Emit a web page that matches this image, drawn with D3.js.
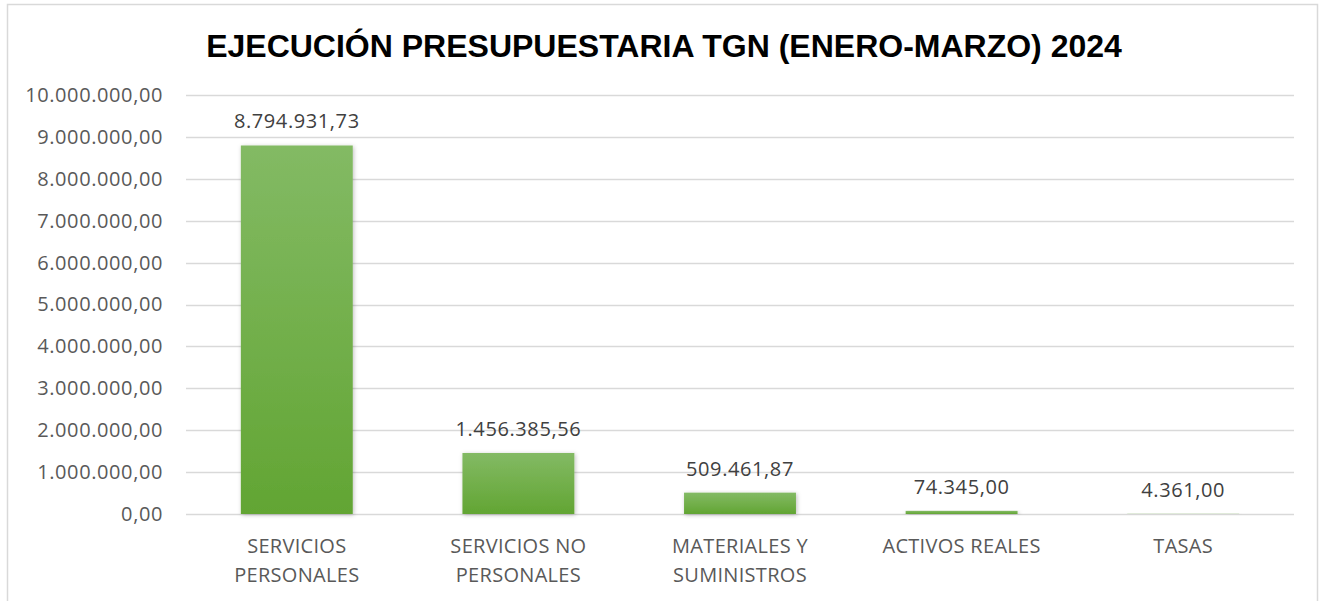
<!DOCTYPE html>
<html>
<head>
<meta charset="utf-8">
<script src="https://cdn.jsdelivr.net/npm/d3@7"></script>
<style>
  body { margin: 0; background: #fff; }
  svg { display: block; }
</style>
</head>
<body>
<div id="chart"></div>
<script>
// chart data
var categories = ['SERVICIOS PERSONALES', 'SERVICIOS NO PERSONALES', 'MATERIALES Y SUMINISTROS', 'ACTIVOS REALES', 'TASAS'];
var categoryLines = [['SERVICIOS', 'PERSONALES'], ['SERVICIOS NO', 'PERSONALES'], ['MATERIALES Y', 'SUMINISTROS'], ['ACTIVOS REALES'], ['TASAS']];
var values = [8794931.73, 1456385.56, 509461.87, 74345.00, 4361.00];
var yTicks = [0, 1000000, 2000000, 3000000, 4000000, 5000000, 6000000, 7000000, 8000000, 9000000, 10000000];
var title = 'EJECUCIÓN PRESUPUESTARIA TGN (ENERO-MARZO) 2024';

(function(d3) {
  'use strict';

  var width = 1326;
  var height = 601;
  var plot = { left: 186, right: 1294, top: 95, bottom: 514 };
  var labelFont = 'Open Sans, Liberation Sans, sans-serif';

  var fmt = d3.formatLocale({
    decimal: ',', thousands: '.', grouping: [3], currency: ['', '']
  }).format(',.2f');

  var svg = d3.select('#chart')
    .append('svg')
    .attr('width', width)
    .attr('height', height);

  var defs = svg.append('defs');
  var grad = defs.append('linearGradient')
    .attr('id', 'barGrad')
    .attr('x1', 0).attr('y1', 0).attr('x2', 0).attr('y2', 1);
  grad.append('stop').attr('offset', '0%').attr('stop-color', '#83ba64');
  grad.append('stop').attr('offset', '100%').attr('stop-color', '#62a533');

  var shadow = defs.append('filter').attr('id', 'shadow')
    .attr('x', '-10%').attr('y', '-10%').attr('width', '130%').attr('height', '130%');
  shadow.append('feDropShadow')
    .attr('dx', 1).attr('dy', 1).attr('stdDeviation', 2)
    .attr('flood-color', '#000').attr('flood-opacity', 0.25);

  // outer frame
  svg.append('rect')
    .attr('x', 7.5).attr('y', 4.5)
    .attr('width', 1310).attr('height', 610)
    .attr('fill', '#fff')
    .attr('stroke', '#d9d9d9')
    .attr('stroke-width', 1.5);

  svg.append('text')
    .attr('x', 664)
    .attr('y', 57)
    .attr('text-anchor', 'middle')
    .attr('font-family', 'Liberation Sans, Arial, sans-serif')
    .attr('font-weight', 'bold')
    .attr('font-size', 32)
    .attr('fill', '#000')
    .text(title);

  var x = d3.scaleBand()
    .domain(categories)
    .range([plot.left, plot.right])
    .paddingInner(0.495)
    .paddingOuter(0.2475);

  var y = d3.scaleLinear()
    .domain([0, 10000000])
    .range([plot.bottom, plot.top]);

  // gridlines
  svg.append('g')
    .selectAll('line')
    .data(yTicks)
    .enter()
    .append('line')
    .attr('x1', plot.left)
    .attr('x2', plot.right)
    .attr('y1', function(d) { return Math.round(y(d)) + 0.5; })
    .attr('y2', function(d) { return Math.round(y(d)) + 0.5; })
    .attr('stroke', '#d9d9d9')
    .attr('stroke-width', 1.5);

  // y axis labels
  var yAxis = d3.axisLeft(y)
    .tickValues(yTicks)
    .tickFormat(fmt)
    .tickSize(0)
    .tickPadding(23);
  var yg = svg.append('g')
    .attr('transform', 'translate(' + plot.left + ',0)')
    .call(yAxis);
  yg.select('.domain').remove();
  yg.selectAll('text')
    .attr('font-family', labelFont)
    .attr('font-size', 20)
    .attr('letter-spacing', 0.6)
    .attr('fill', '#595959');

  // bars
  svg.append('g')
    .selectAll('rect')
    .data(values)
    .enter()
    .append('rect')
    .attr('x', function(d, i) { return x(categories[i]); })
    .attr('y', function(d) { return y(d); })
    .attr('width', x.bandwidth())
    .attr('height', function(d) { return Math.max(0, y(0) - y(d)); })
    .attr('fill', 'url(#barGrad)')
    .attr('filter', 'url(#shadow)');

  // value labels
  svg.append('g')
    .selectAll('text')
    .data(values)
    .enter()
    .append('text')
    .attr('x', function(d, i) { return x(categories[i]) + x.bandwidth() / 2; })
    .attr('y', function(d) { return y(d) - 17; })
    .attr('text-anchor', 'middle')
    .attr('font-family', labelFont)
    .attr('font-size', 20)
    .attr('letter-spacing', 0.6)
    .attr('fill', '#404040')
    .text(function(d) { return fmt(d); });

  // category labels
  var cat = svg.append('g')
    .selectAll('text')
    .data(categoryLines)
    .enter()
    .append('text')
    .attr('text-anchor', 'middle')
    .attr('font-family', labelFont)
    .attr('font-size', 20)
    .attr('letter-spacing', 0.3)
    .attr('fill', '#595959');
  cat.each(function(lines, i) {
    var cx = x(categories[i]) + x.bandwidth() / 2;
    d3.select(this).selectAll('tspan')
      .data(lines)
      .enter()
      .append('tspan')
      .attr('x', cx)
      .attr('y', function(d, j) { return 553 + j * 29; })
      .text(function(d) { return d; });
  });

})(window.d3);
</script>
</body>
</html>
